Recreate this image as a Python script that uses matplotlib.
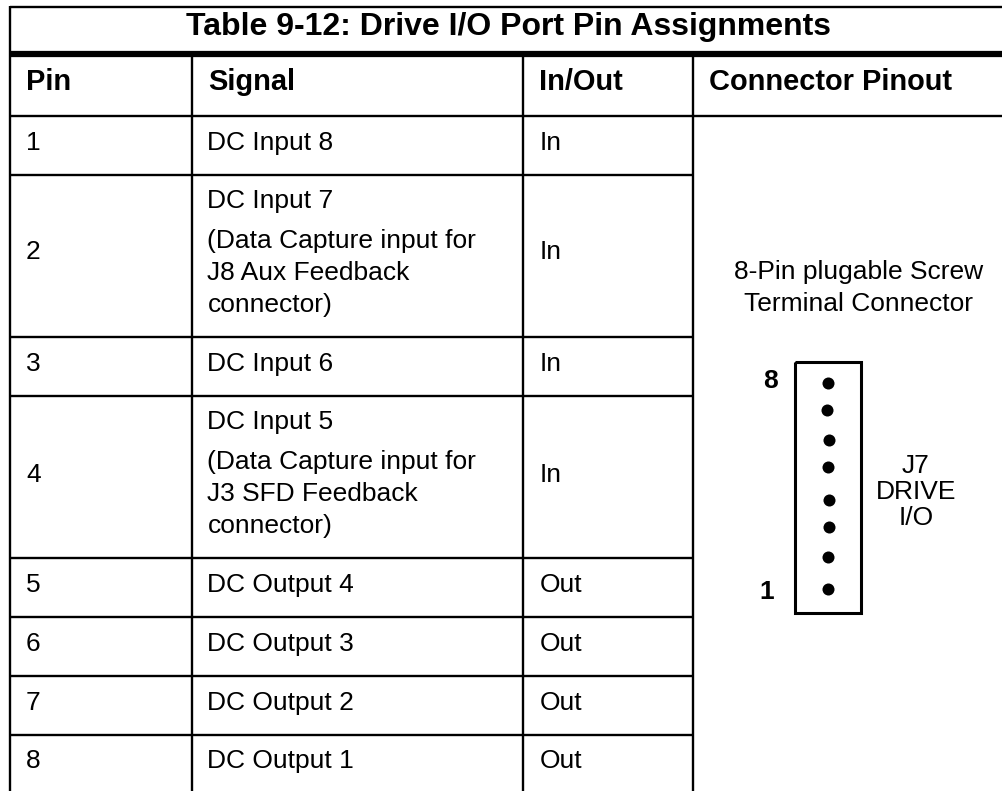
import matplotlib
matplotlib.use('Agg')
import matplotlib.pyplot as plt

plt.rcParams['font.family'] = ['Liberation Sans', 'DejaVu Sans']
plt.rcParams['lines.solid_capstyle'] = 'butt'

title = 'Table 9-12: Drive I/O Port Pin Assignments'
headers = ['Pin', 'Signal', 'In/Out', 'Connector Pinout']
pins = ['1', '2', '3', '4', '5', '6', '7', '8']
signals = [['DC Input 8'],
           ['DC Input 7', '(Data Capture input for', 'J8 Aux Feedback', 'connector)'],
           ['DC Input 6'],
           ['DC Input 5', '(Data Capture input for', 'J3 SFD Feedback', 'connector)'],
           ['DC Output 4'], ['DC Output 3'], ['DC Output 2'], ['DC Output 1']]
directions = ['In', 'In', 'In', 'In', 'Out', 'Out', 'Out', 'Out']
connector_name = ['8-Pin plugable Screw', 'Terminal Connector']
connector_label = ['J7', 'DRIVE', 'I/O']

# row rules, baselines and pin dots, in image pixels
row_lines = [116, 175, 337, 396, 558, 617, 676, 735]
pin_base = [150, 259, 371, 482, 592, 651, 710, 768]
line_offsets = [0, 40, 72, 104]
dot_x = [828, 827, 829, 828, 829, 829, 828, 828]
dot_y = [383, 410, 440, 467, 500, 527, 557, 589]

fig = plt.figure(figsize=(10.03, 7.91), dpi=100)
ax = fig.add_axes([0, 0, 1, 1])
ax.set_xlim(0, 1003)
ax.set_ylim(791, 0)
ax.axis('off')

FS = 19
LW = 1.7

# frame
ax.plot([10, 1003], [7, 7], 'k', lw=LW)
ax.plot([10, 10], [6, 791], 'k', lw=LW)
ax.plot([10, 1003], [54.2, 54.2], 'k', lw=4.5)
for y, x1 in zip(row_lines, [1003] + [693] * 7):
    ax.plot([10, x1], [y, y], 'k', lw=LW)
for x in [192, 523, 693]:
    ax.plot([x, x], [54, 791], 'k', lw=LW)

ax.text(508.5, 35, title, ha='center', va='baseline', fontsize=23, fontweight='bold')
for x, h in zip([26, 208, 539, 709], headers):
    ax.text(x, 90, h, ha='left', va='baseline', fontsize=20.9, fontweight='bold')

for i in range(8):
    ax.text(26, pin_base[i], pins[i], ha='left', va='baseline', fontsize=FS)
    ax.text(539.5, pin_base[i], directions[i], ha='left', va='baseline', fontsize=FS)
    if len(signals[i]) == 1:
        ax.text(207.5, pin_base[i], signals[i][0], ha='left', va='baseline', fontsize=FS)
    else:
        for s, off in zip(signals[i], line_offsets):
            ax.text(207.5, row_lines[i] + 33 + off, s, ha='left', va='baseline', fontsize=FS)

for s, y in zip(connector_name, [279, 311]):
    ax.text(858.5, y, s, ha='center', va='baseline', fontsize=FS)
ax.plot([795.5, 861.5, 861.5, 795.5, 795.5], [362, 362, 613, 613, 362], 'k', lw=2.2, solid_joinstyle='miter')
ax.scatter(dot_x, dot_y, s=75, c='k', linewidths=0)
ax.text(771, 388, '8', ha='center', va='baseline', fontsize=FS, fontweight='bold')
ax.text(767, 599, '1', ha='center', va='baseline', fontsize=FS, fontweight='bold')
for s, y in zip(connector_label, [473, 499, 525]):
    ax.text(916, y, s, ha='center', va='baseline', fontsize=FS)

fig.savefig('out.png', dpi=100)
